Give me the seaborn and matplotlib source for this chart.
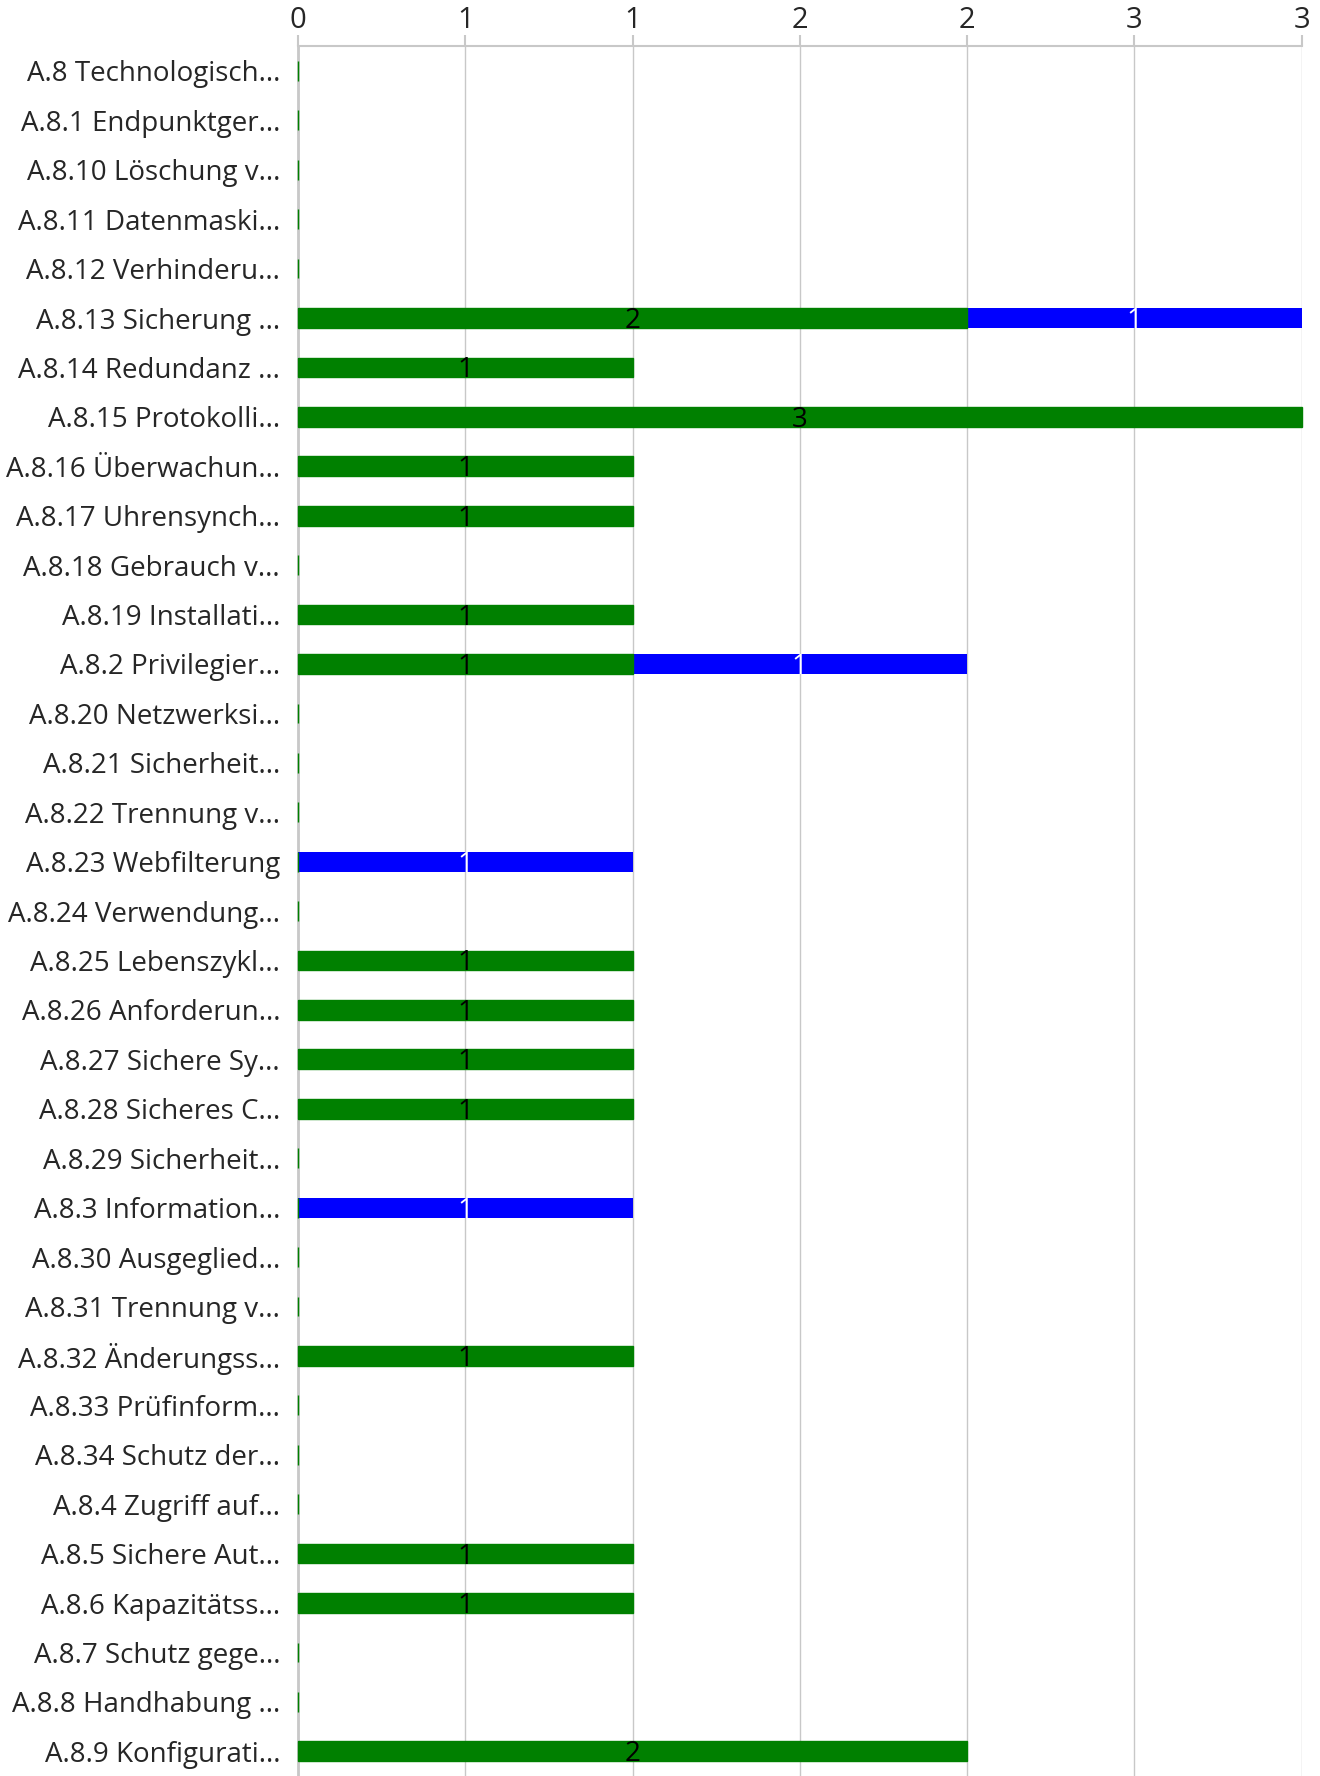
import numpy as np
import pandas as pd
import seaborn as sns
import matplotlib.pyplot as plt

# --- Data ---
categories = [
    "A.8 Technologisch...", "A.8.1 Endpunktger...", "A.8.10 Löschung v...",
    "A.8.11 Datenmaski...", "A.8.12 Verhinderu...", "A.8.13 Sicherung ...",
    "A.8.14 Redundanz ...", "A.8.15 Protokolli...", "A.8.16 Überwachun...",
    "A.8.17 Uhrensynch...", "A.8.18 Gebrauch v...", "A.8.19 Installati...",
    "A.8.2 Privilegier...", "A.8.20 Netzwerksi...", "A.8.21 Sicherheit...",
    "A.8.22 Trennung v...", "A.8.23 Webfilterung", "A.8.24 Verwendung...",
    "A.8.25 Lebenszykl...", "A.8.26 Anforderun...", "A.8.27 Sichere Sy...",
    "A.8.28 Sicheres C...", "A.8.29 Sicherheit...", "A.8.3 Information...",
    "A.8.30 Ausgeglied...", "A.8.31 Trennung v...", "A.8.32 Änderungss...",
    "A.8.33 Prüfinform...", "A.8.34 Schutz der...", "A.8.4 Zugriff auf...",
    "A.8.5 Sichere Aut...", "A.8.6 Kapazitätss...", "A.8.7 Schutz gege...",
    "A.8.8 Handhabung ...", "A.8.9 Konfigurati...",
]
green_values = [0, 0, 0, 0, 0, 2, 1, 3, 1, 1, 0, 1, 1, 0, 0, 0, 0, 0,
                1, 1, 1, 1, 0, 0, 0, 0, 1, 0, 0, 0, 1, 1, 0, 0, 2]
blue_values = [0, 0, 0, 0, 0, 1, 0, 0, 0, 0, 0, 0, 1, 0, 0, 0, 1, 0,
               0, 0, 0, 0, 0, 1, 0, 0, 0, 0, 0, 0, 0, 0, 0, 0, 0]
x_ticks = [0, 0.5, 1, 1.5, 2, 2.5, 3]
x_tick_labels = ["0", "1", "1", "2", "2", "3", "3"]

GREEN = "#008000"
BLUE = "#0000ff"
GRID = "#c8c8c8"
FS = 20

df = pd.DataFrame({"cat": categories, "green": green_values, "blue": blue_values})
df["total"] = df["green"] + df["blue"]

sns.set_style("white")
plt.rcParams["font.family"] = ["Open Sans", "DejaVu Sans"]

fig = plt.figure(figsize=(13.2, 17.76), dpi=100)
ax = fig.add_axes([0.2258, 0.0, 0.986 - 0.2258, 0.974])

# stacked: total in blue underneath, green on top
sns.barplot(data=df, y="cat", x="total", orient="h", color=BLUE,
            saturation=1, width=0.40, ax=ax, linewidth=0)
sns.barplot(data=df, y="cat", x="green", orient="h", color=GREEN,
            saturation=1, width=0.40, ax=ax, edgecolor=GREEN, linewidth=1)
for p in ax.patches:
    p.set_zorder(3)
    p.set_clip_on(False)

# segment labels
for i, row in df.iterrows():
    if row["green"] > 0:
        ax.text(row["green"] / 2, i + 0.06, str(row["green"]), ha="center",
                va="center", fontsize=FS, color="black", zorder=4)
    if row["blue"] > 0:
        ax.text(row["green"] + row["blue"] / 2, i + 0.06, str(row["blue"]),
                ha="center", va="center", fontsize=FS, color="white", zorder=4)

ax.set_xlim(0, 3)
ax.set_ylim(34.42, -0.48)
ax.xaxis.tick_top()
ax.set_xticks(x_ticks)
ax.set_xticklabels(x_tick_labels, fontsize=21)
ax.tick_params(axis="x", length=8, color=GRID, width=1.5, pad=0)
ax.grid(axis="x", color=GRID, linewidth=1)
ax.set_axisbelow(True)

ax.set_yticks(range(len(categories)))
ax.set_yticklabels(categories, fontsize=FS)
ax.set_yticks(np.arange(-0.5, len(categories), 1), minor=True)
ax.tick_params(axis="y", which="major", length=0, pad=13)
ax.tick_params(axis="y", which="minor", length=6.5, color=GRID, width=1.5)
ax.set_xlabel("")
ax.set_ylabel("")

for side in ["right", "bottom"]:
    ax.spines[side].set_visible(False)
ax.spines["top"].set_color(GRID)
ax.spines["top"].set_linewidth(1.5)
ax.spines["left"].set_color(GRID)
ax.spines["left"].set_linewidth(2)

fig.savefig("out.png", dpi=100)
